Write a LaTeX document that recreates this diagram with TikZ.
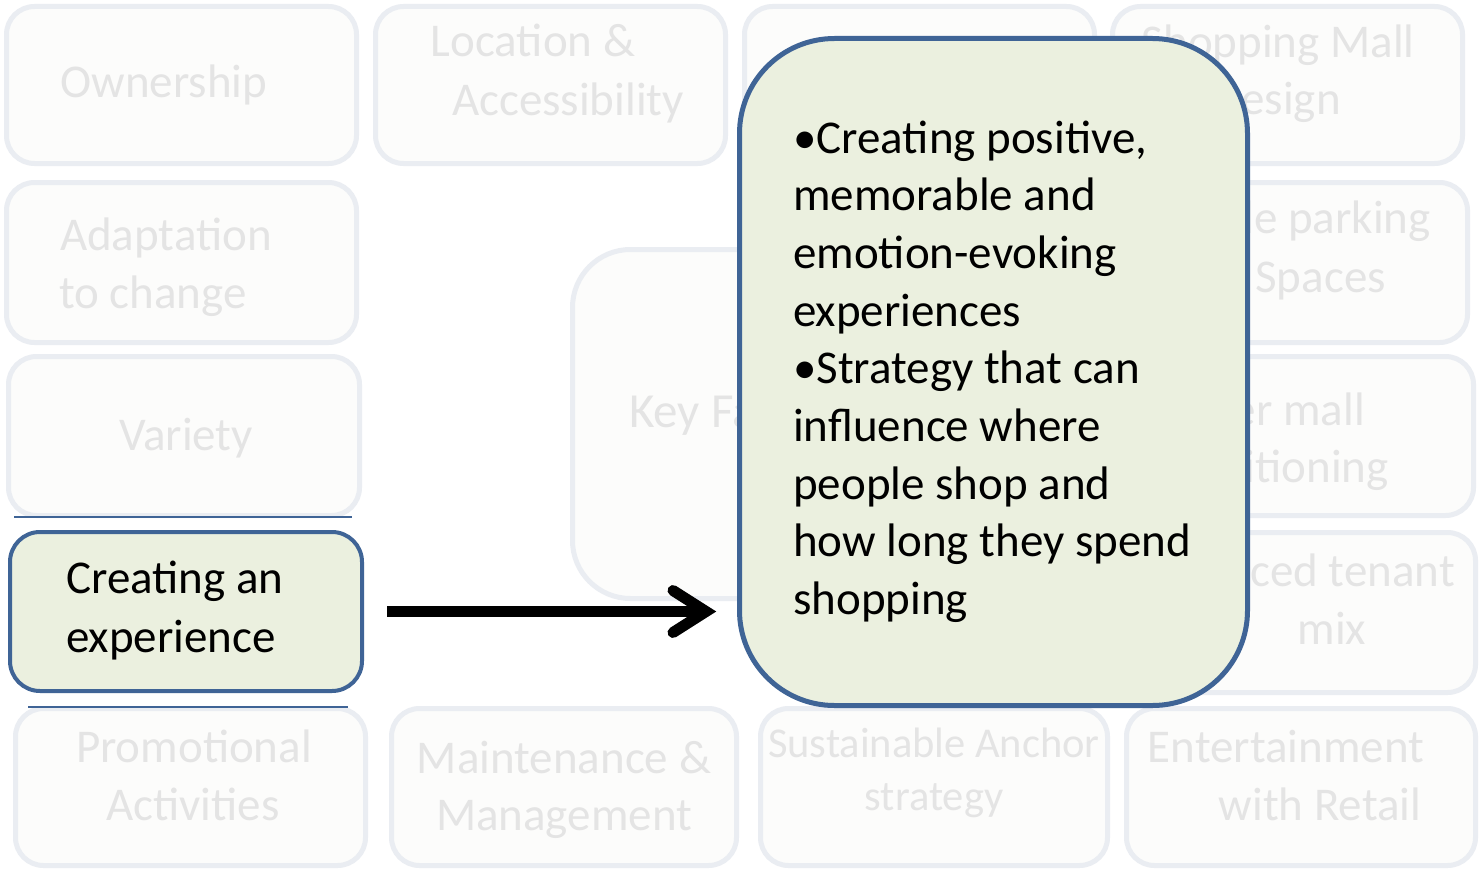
\documentclass[tikz,border=0pt]{standalone}
\usepackage{fontspec}
\setmainfont{Carlito}
\definecolor{fadefill}{HTML}{FCFCFB}
\definecolor{fadeline}{HTML}{EAEDF2}
\definecolor{fadetext}{HTML}{E4E4E4}
\definecolor{hifill}{HTML}{EBF0DF}
\definecolor{hiline}{HTML}{3F6496}
\tikzset{
  fbox/.style={draw=fadeline, fill=fadefill, line width=5pt, rounded corners=28pt, outer sep=0pt, inner sep=0pt},
  hbox/.style={draw=hiline, fill=hifill, line width=4pt, rounded corners=30pt, outer sep=0pt, inner sep=0pt},
  ftxt/.style={text=fadetext, inner sep=0pt, font=\fontsize{47}{57}\selectfont},
  stxt/.style={text=fadetext, inner sep=0pt, font=\fontsize{42.5}{52}\selectfont},
  btxt/.style={text=black, inner sep=0pt, font=\fontsize{47}{57.7}\selectfont},
  shaft/.style={line width=11pt},
  chev/.style={line width=11pt, line cap=round, line join=miter},
  mark line/.style={draw=hiline, line width=2pt}
}
\begin{document}
\begin{tikzpicture}[x=1pt,y=-1pt]
\fill[white] (0,0) rectangle (1479,872);
\path[use as bounding box] (0,0) rectangle (1479,872);

% faded boxes
\node[fbox, minimum width=350pt, minimum height=157pt] (own) at (181.5,85) {};
\node[fbox, minimum width=350pt, minimum height=157pt] (loc) at (550.5,85) {};
\node[fbox, minimum width=350pt, minimum height=157pt] (hid) at (919.5,85) {};
\node[fbox, minimum width=350pt, minimum height=157pt] (mall) at (1287.5,85) {};
\node[fbox, minimum width=350pt, minimum height=160pt] (adapt) at (181.5,262.5) {};
\node[fbox, minimum width=350pt, minimum height=160pt] (park) at (1292.5,262.5) {};
\node[fbox, minimum width=351pt, minimum height=159pt] (var) at (184,436) {};
\node[fbox, minimum width=350pt, minimum height=159pt] (pos) at (1298.5,436) {};
\node[fbox, minimum width=350pt, minimum height=160pt] (ten) at (1300.5,612.5) {};
\node[fbox, minimum width=350pt, minimum height=157pt] (promo) at (190.5,787) {};
\node[fbox, minimum width=345pt, minimum height=157pt] (maint) at (564,787) {};
\node[fbox, minimum width=347pt, minimum height=157pt] (sust) at (934,787) {};
\node[fbox, minimum width=349pt, minimum height=157pt] (ent) at (1301,787) {};
\node[fbox, rounded corners=58pt, minimum width=335pt, minimum height=349pt] (key) at (740,424) {};

% faded texts
\node[ftxt, anchor=base] (t-own) at (164,98) {Ownership};
\node[ftxt, anchor=base] (t-loc1) at (533,57) {Location \&};
\node[ftxt, anchor=base] (t-loc2) at (568,116) {Accessibility};
\node[ftxt, anchor=base east] (t-mall1) at (1415,58) {Shopping Mall};
\node[ftxt, anchor=base east] (t-mall2) at (1341,115) {Design};
\node[ftxt, anchor=base] (t-ad1) at (166,250) {Adaptation};
\node[ftxt, anchor=base] (t-ad2) at (153,308) {to change};
\node[ftxt, anchor=base east] (t-park1) at (1431,233) {Ample parking};
\node[ftxt, anchor=base east] (t-park2) at (1386,292) {Spaces};
\node[ftxt, anchor=base] (t-var) at (186,450) {Variety};
\node[ftxt, anchor=base east] (t-pos1) at (1365,425) {Proper mall};
\node[ftxt, anchor=base east] (t-pos2) at (1389,482.5) {positioning};
\node[ftxt, anchor=base east] (t-ten1) at (1455,586) {Balanced tenant};
\node[ftxt, anchor=base] (t-ten2) at (1332,644) {mix};
\node[ftxt, anchor=base] (t-pro1) at (194,762) {Promotional};
\node[ftxt, anchor=base] (t-pro2) at (193,820) {Activities};
\node[ftxt, anchor=base] (t-mai1) at (564,773) {Maintenance \&};
\node[ftxt, anchor=base] (t-mai2) at (564,830) {Management};
\node[stxt, anchor=base] (t-sus1) at (934,757) {Sustainable Anchor};
\node[stxt, anchor=base] (t-sus2) at (934,810) {strategy};
\node[ftxt, anchor=base] (t-ent1) at (1286,762) {Entertainment};
\node[ftxt, anchor=base] (t-ent2) at (1320,820) {with Retail};
\node[ftxt, font=\fontsize{49}{59}\selectfont, anchor=base west] (t-key) at (629,427) {Key Factors};

% blue remnant lines
\draw[mark line] (14,517) -- (352,517);
\draw[mark line] (28,707) -- (348,707);

% highlighted box
\node[hbox, minimum width=352pt, minimum height=159pt] (crt) at (186,611.5) {};
\node[btxt, anchor=base west] (t-crt1) at (66,593) {Creating an};
\node[btxt, anchor=base west] (t-crt2) at (66,652) {experience};

% big callout box
\node[hbox, line width=5pt, rounded corners=95pt, minimum width=508pt, minimum height=667pt] (big) at (993.5,372) {};
\node[btxt, anchor=base west, align=left] (bigtxt) at (793,614.6) {•Creating positive,\\memorable and\\emotion-evoking\\experiences\\•Strategy that can\\influence where\\people shop and\\how long they spend\\shopping};

% arrow
\draw[shaft] ([xshift=25pt]crt.east) -- ([xshift=-33.5pt]crt.east -| big.west) coordinate (tip);
\draw[chev] ([shift={(-33pt,21pt)}]tip) -- (tip) -- ([shift={(-33pt,-21pt)}]tip);
\end{tikzpicture}
\end{document}
